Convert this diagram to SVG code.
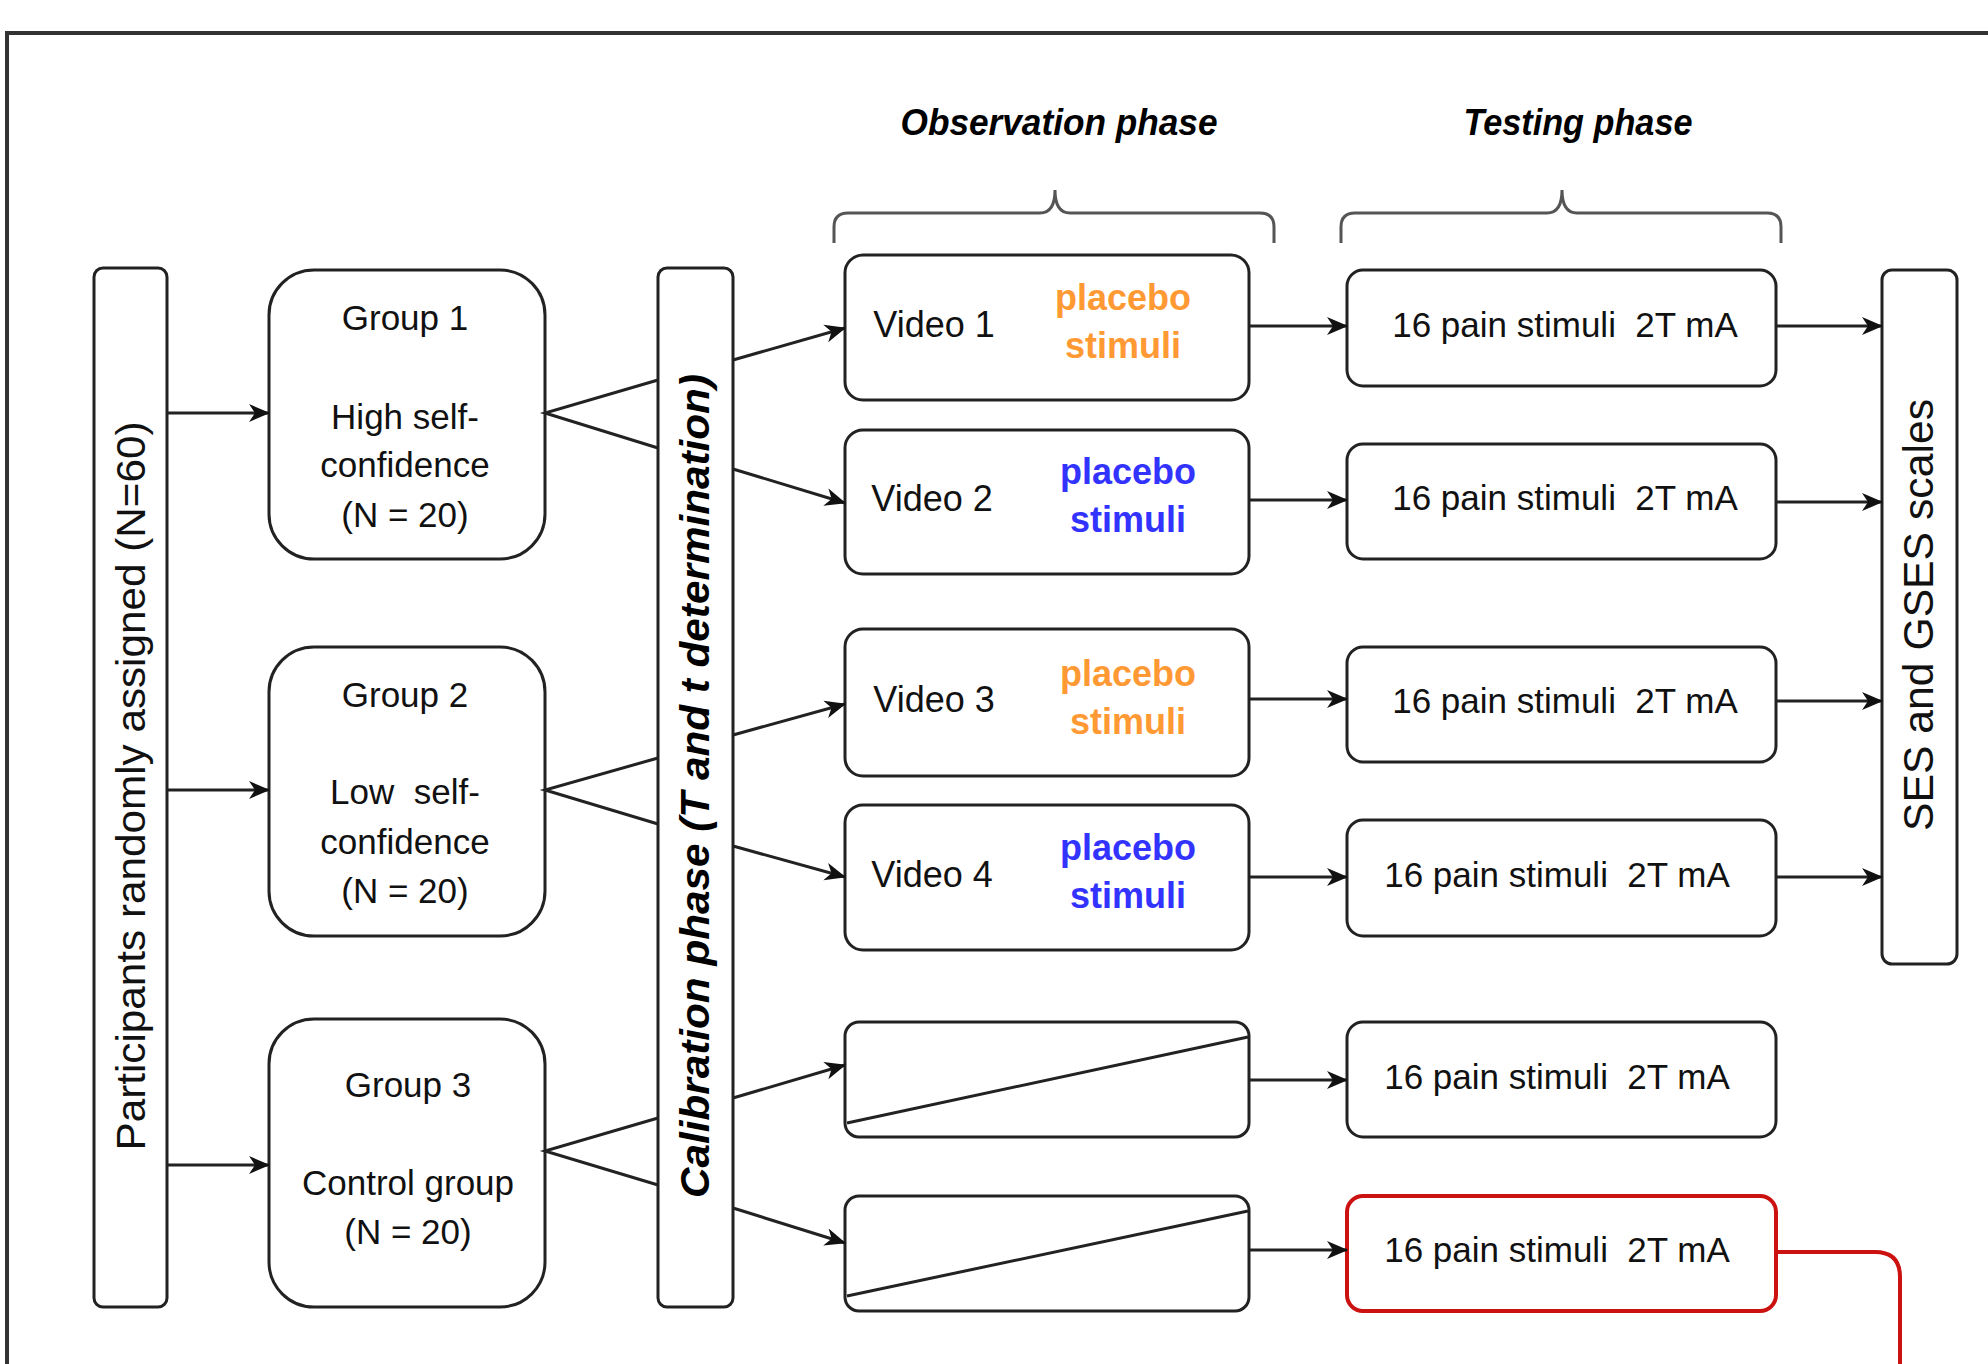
<svg xmlns="http://www.w3.org/2000/svg" width="1988" height="1364" viewBox="0 0 1988 1364">
<defs>
<style>
.box{fill:#fff;stroke:#222;stroke-width:3}
.t{font-family:"Liberation Sans",Arial,sans-serif;font-size:35px;fill:#111;text-anchor:middle}
.tb{font-family:"Liberation Sans",Arial,sans-serif;font-size:36px;font-weight:bold;text-anchor:middle}
.or{fill:#FF9933}
.bl{fill:#3333FF}
.hd{font-family:"Liberation Sans",Arial,sans-serif;font-size:36px;font-weight:bold;font-style:italic;fill:#000;text-anchor:middle}
.ln{fill:none;stroke:#222;stroke-width:3}
.ar{fill:none;stroke:#222;stroke-width:3;marker-end:url(#ah)}
.brace{fill:none;stroke:#555;stroke-width:3}
</style>
<marker id="ah" markerWidth="22" markerHeight="20" refX="20" refY="10" orient="auto" markerUnits="userSpaceOnUse">
<path d="M0,1 L21,10 L0,19 L6,10 Z" fill="#111"/>
</marker>
</defs>
<rect x="0" y="0" width="1988" height="1364" fill="#fff"/>
<rect x="7" y="33" width="2100" height="1500" fill="none" stroke="#333" stroke-width="4"/>

<g id="headers">
<text class="hd" x="1059" y="135" textLength="317" lengthAdjust="spacingAndGlyphs">Observation phase</text>
<text class="hd" x="1578" y="135" textLength="229" lengthAdjust="spacingAndGlyphs">Testing phase</text>
<path class="brace" d="M834,243 V227 Q834,213 848,213 H1040 Q1055,213 1055,190 Q1055,213 1070,213 H1260 Q1274,213 1274,227 V243"/>
<path class="brace" d="M1341,243 V227 Q1341,213 1355,213 H1547 Q1562,213 1562,190 Q1562,213 1577,213 H1767 Q1781,213 1781,227 V243"/>
</g>

<g id="participants">
<rect class="box" x="94" y="268" width="73" height="1039" rx="9"/>
<text class="t" style="font-size:41px" transform="translate(131,786) rotate(-90)" dy="14" textLength="729" lengthAdjust="spacingAndGlyphs">Participants randomly assigned (N=60)</text>
</g>

<g id="group1">
<rect class="box" x="269" y="270" width="276" height="289" rx="45"/>
<text class="t" x="405" y="330">Group 1</text>
<text class="t" x="405" y="429">High self-</text>
<text class="t" x="405" y="477">confidence</text>
<text class="t" x="405" y="527">(N = 20)</text>
</g>
<g id="group2">
<rect class="box" x="269" y="647" width="276" height="289" rx="45"/>
<text class="t" x="405" y="707">Group 2</text>
<text class="t" x="405" y="804" xml:space="preserve">Low  self-</text>
<text class="t" x="405" y="854">confidence</text>
<text class="t" x="405" y="903">(N = 20)</text>
</g>
<g id="group3">
<rect class="box" x="269" y="1019" width="276" height="288" rx="45"/>
<text class="t" x="408" y="1097">Group 3</text>
<text class="t" x="408" y="1195">Control group</text>
<text class="t" x="408" y="1244">(N = 20)</text>
</g>

<g id="calibration">
<rect class="box" x="658" y="268" width="75" height="1039" rx="9"/>
<text class="hd" style="font-size:40px" transform="translate(695,786) rotate(-90)" dy="14" textLength="824" lengthAdjust="spacingAndGlyphs">Calibration phase (T and t determination)</text>
</g>

<g id="video1">
<rect class="box" x="845" y="255" width="404" height="145" rx="18"/>
<text class="t" style="font-size:36px" x="934" y="337">Video 1</text>
<text class="tb or" x="1123" y="310">placebo</text>
<text class="tb or" x="1123" y="358">stimuli</text>
</g>
<g id="video2">
<rect class="box" x="845" y="430" width="404" height="144" rx="18"/>
<text class="t" style="font-size:36px" x="932" y="511">Video 2</text>
<text class="tb bl" x="1128" y="484">placebo</text>
<text class="tb bl" x="1128" y="532">stimuli</text>
</g>
<g id="video3">
<rect class="box" x="845" y="629" width="404" height="147" rx="18"/>
<text class="t" style="font-size:36px" x="934" y="712">Video 3</text>
<text class="tb or" x="1128" y="686">placebo</text>
<text class="tb or" x="1128" y="734">stimuli</text>
</g>
<g id="video4">
<rect class="box" x="845" y="805" width="404" height="145" rx="18"/>
<text class="t" style="font-size:36px" x="932" y="887">Video 4</text>
<text class="tb bl" x="1128" y="860">placebo</text>
<text class="tb bl" x="1128" y="908">stimuli</text>
</g>
<g id="empty5">
<rect class="box" x="845" y="1022" width="404" height="115" rx="14"/>
<line class="ln" x1="847" y1="1123" x2="1248" y2="1037"/>
</g>
<g id="empty6">
<rect class="box" x="845" y="1196" width="404" height="115" rx="14"/>
<line class="ln" x1="847" y1="1296" x2="1248" y2="1211"/>
</g>

<g id="pain1">
<rect class="box" x="1347" y="270" width="429" height="116" rx="16"/>
<text class="t" x="1565" y="337" xml:space="preserve">16 pain stimuli  2T mA</text>
</g>
<g id="pain2">
<rect class="box" x="1347" y="444" width="429" height="115" rx="16"/>
<text class="t" x="1565" y="510" xml:space="preserve">16 pain stimuli  2T mA</text>
</g>
<g id="pain3">
<rect class="box" x="1347" y="647" width="429" height="115" rx="16"/>
<text class="t" x="1565" y="713" xml:space="preserve">16 pain stimuli  2T mA</text>
</g>
<g id="pain4">
<rect class="box" x="1347" y="820" width="429" height="116" rx="16"/>
<text class="t" x="1557" y="887" xml:space="preserve">16 pain stimuli  2T mA</text>
</g>
<g id="pain5">
<rect class="box" x="1347" y="1022" width="429" height="115" rx="16"/>
<text class="t" x="1557" y="1089" xml:space="preserve">16 pain stimuli  2T mA</text>
</g>
<g id="pain6">
<rect x="1347" y="1196" width="429" height="115" rx="16" fill="#fff" stroke="#CC1111" stroke-width="4"/>
<text class="t" x="1557" y="1262" xml:space="preserve">16 pain stimuli  2T mA</text>
</g>

<g id="ses">
<rect class="box" x="1882" y="270" width="75" height="694" rx="10"/>
<text class="t" style="font-size:42px" transform="translate(1918,615) rotate(-90)" dy="15" textLength="432" lengthAdjust="spacingAndGlyphs">SES and GSES scales</text>
</g>

<g id="connectors">
<line class="ar" x1="167" y1="413" x2="269" y2="413"/>
<line class="ar" x1="167" y1="790" x2="269" y2="790"/>
<line class="ar" x1="167" y1="1165" x2="269" y2="1165"/>
<polyline class="ln" points="658,380 545,413 658,448"/>
<polyline class="ln" points="658,758 545,790 658,824"/>
<polyline class="ln" points="658,1118 545,1151 658,1185"/>
<line class="ar" x1="733" y1="360" x2="845" y2="328"/>
<line class="ar" x1="733" y1="469" x2="845" y2="503"/>
<line class="ar" x1="733" y1="735" x2="845" y2="704"/>
<line class="ar" x1="733" y1="846" x2="845" y2="877"/>
<line class="ar" x1="733" y1="1098" x2="845" y2="1065"/>
<line class="ar" x1="733" y1="1208" x2="845" y2="1243"/>
<line class="ar" x1="1249" y1="326" x2="1347" y2="326"/>
<line class="ar" x1="1249" y1="500" x2="1347" y2="500"/>
<line class="ar" x1="1249" y1="699" x2="1347" y2="699"/>
<line class="ar" x1="1249" y1="877" x2="1347" y2="877"/>
<line class="ar" x1="1249" y1="1080" x2="1347" y2="1080"/>
<line class="ar" x1="1249" y1="1250" x2="1347" y2="1250"/>
<line class="ar" x1="1776" y1="326" x2="1882" y2="326"/>
<line class="ar" x1="1776" y1="502" x2="1882" y2="502"/>
<line class="ar" x1="1776" y1="701" x2="1882" y2="701"/>
<line class="ar" x1="1776" y1="877" x2="1882" y2="877"/>
<path d="M1776,1252 H1875 Q1900,1252 1900,1277 V1370" fill="none" stroke="#CC1111" stroke-width="4"/>
</g>
</svg>
